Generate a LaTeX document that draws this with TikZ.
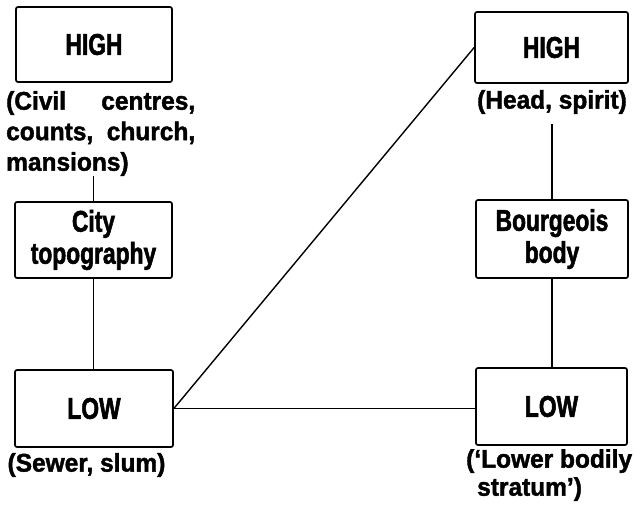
\documentclass[tikz,border=0pt]{standalone}
\usepackage{fontspec}
\setmainfont{Liberation Sans}
\newfontfamily\boxfont[FakeStretch=0.76, BoldFeatures={FakeBold=1.8}]{Liberation Sans}
\newfontfamily\notefont[FakeStretch=0.96, BoldFeatures={FakeBold=1.6}]{Liberation Sans}
\begin{document}
\begin{tikzpicture}[x=1pt,y=1pt,
  box/.style={draw, line width=1.7pt, rounded corners=2pt, inner sep=0pt, align=center,
    font=\boxfont\bfseries\fontsize{30}{32}\selectfont},
  note/.style={inner sep=0pt, font=\notefont\bfseries\fontsize{25.5}{30.5}\selectfont},
  link/.style={line width=1.4pt}]
\useasboundingbox (0,0) rectangle (634,-509);
% left column
\node[box, minimum width=156, minimum height=75] (hl) at (94,-44.5) {HIGH};
\node[note, anchor=north west, align=left] (hlt) at (6,-91) {\makebox[189pt][s]{(Civil centres,}\\\makebox[189pt][s]{counts, church,}\\mansions)};
\node[box, minimum width=157, minimum height=76] (city) at (93.5,-240) {City\\topography};
\node[box, minimum width=158, minimum height=77] (ll) at (94,-408.5) {LOW};
\node[note] (llt) at (86.5,-465) {(Sewer, slum)};
% right column
\node[box, minimum width=153, minimum height=71] (hr) at (551.5,-47.5) {HIGH};
\node[note] (hrt) at (552,-102) {(Head, spirit)};
\node[box, minimum width=152, minimum height=78] (bb) at (552,-239) {Bourgeois\\body};
\node[box, minimum width=151, minimum height=77] (lr) at (551.5,-406.5) {LOW};
\node[note, anchor=north west, align=left, font=\notefont\bfseries\fontsize{25.5}{28}\selectfont] (lrt) at (466,-449) {(‘Lower bodily\\\hspace*{11pt}stratum’)};
% connectors
\draw[link] (hlt.south -| city.north) -- (city.north);
\draw[link] (city.south) -- (city.south |- ll.north);
\draw[link] (ll.east) -- (hr.west);
\draw[link] (ll.east) -- (ll.east -| lr.west);
\draw[link] ([yshift=-10pt]hrt.south -| bb.north) -- (bb.north);
\draw[link] (bb.south) -- (bb.south |- lr.north);
\end{tikzpicture}
\end{document}
